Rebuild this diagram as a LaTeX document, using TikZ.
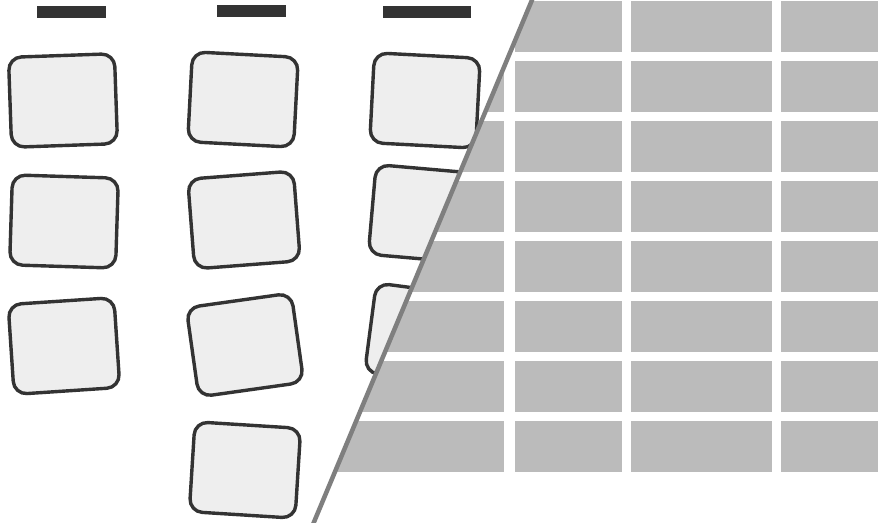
\documentclass[tikz,border=0pt]{standalone}
\usetikzlibrary{calc}
\definecolor{barc}{HTML}{333333}
\definecolor{cardline}{HTML}{333333}
\definecolor{cardfill}{HTML}{EEEEEE}
\definecolor{cellc}{HTML}{BBBBBB}
\definecolor{divc}{HTML}{7F7F7F}
\begin{document}
\begin{tikzpicture}[x=1pt,y=-1pt,
  bar/.style={fill=barc, draw=none, inner sep=0pt, minimum width=#1, minimum height=12pt},
  card/.style={draw=cardline, fill=cardfill, line width=3.4pt, rounded corners=13pt,
    minimum width=106pt, minimum height=90pt, inner sep=0pt, rotate=#1},
  cell/.style={fill=cellc, draw=none},
  divider/.style={draw=divc, line width=4.5pt}]
\useasboundingbox (0,0) rectangle (878,522);
\fill[white] (0,0) rectangle (878,522);
% header bars
\node[bar=69pt] (b1) at (71.5,12) {};
\node[bar=69pt] (b2) at (251.5,11) {};
\node[bar=88pt] (b3) at (427,12) {};
% column 1
\node[card=2]    (c11) at (63,100.5) {};
\node[card=-1.8] (c12) at (64,221.5) {};
\node[card=3.8]  (c13) at (64,346) {};
% column 2
\node[card=-3]   (c21) at (243,99.5) {};
\node[card=4.4]  (c22) at (244,220) {};
\node[card=8]    (c23) at (245,345) {};
\node[card=-3.6] (c24) at (245,470) {};
% column 3
\node[card=-3]   (c31) at (425,100.5) {};
\node[card=-5]   (c32) at (425,214) {};
\node[card=-7.5] (c33) at (423,334.5) {};
% divider
\coordinate (dtop) at (532,0);
\coordinate (dbot) at (314,522);
\coordinate (etop) at ($(dtop)!-0.05!(dbot)$);
\coordinate (ebot) at ($(dbot)!-0.05!(dtop)$);
\fill[white] (etop) -- (900,-30) -- (900,560) -- (ebot) -- cycle;
\begin{scope}
  \clip (etop) -- (900,-30) -- (900,560) -- (ebot) -- cycle;
  \foreach \i in {0,...,7} {
    \pgfmathsetmacro{\t}{1.2+60*\i}
    \fill[cell] (200,\t) rectangle (504,\t+50.5);
    \fill[cell] (515,\t) rectangle (621.5,\t+50.5);
    \fill[cell] (631,\t) rectangle (771.5,\t+50.5);
    \fill[cell] (781,\t) rectangle (1000,\t+50.5);
  }
\end{scope}
\draw[divider] (etop) -- (ebot);
\end{tikzpicture}
\end{document}
